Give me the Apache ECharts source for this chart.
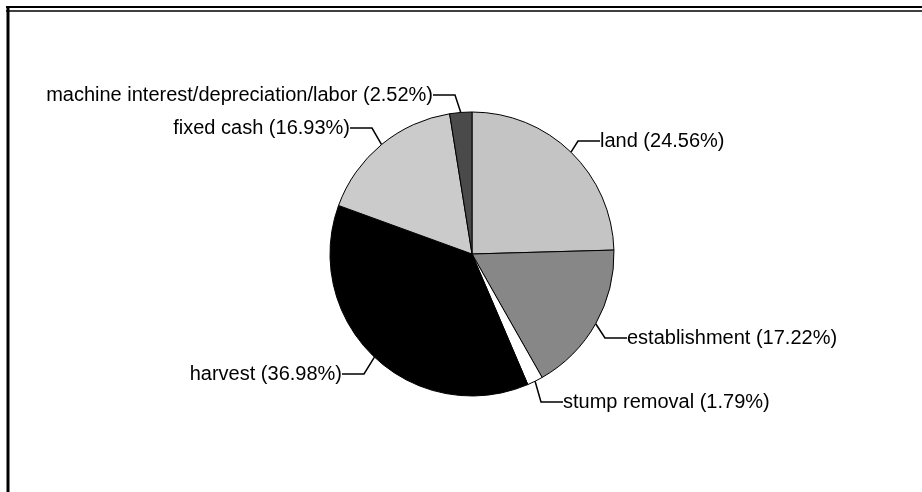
<!DOCTYPE html>
<html>
<head>
<meta charset="utf-8">
<script src="https://cdn.jsdelivr.net/npm/echarts@6/dist/echarts.min.js"></script>
<style>
  html, body { margin: 0; padding: 0; background: #fff; }
  #chart { width: 922px; height: 492px; }
</style>
</head>
<body>
<div id="chart"></div>
<script>
  // cost shares, clockwise from 12 o'clock
  const categories = [
    "land",
    "establishment",
    "stump removal",
    "harvest",
    "fixed cash",
    "machine interest/depreciation/labor"
  ]
  const shares = [24.56, 17.22, 1.79, 36.98, 16.93, 2.52]
  const sliceColors = ["#c4c4c4", "#878787", "#ffffff", "#000000", "#cbcbcb", "#4a4a4a"]

  // where each label box sits (anchor x, centre y, which side)
  const labelSpots = {
    "land": [596, 141, "left"],
    "establishment": [623, 338, "left"],
    "stump removal": [559, 402, "left"],
    "harvest": [346, 374, "right"],
    "fixed cash": [354, 128, "right"],
    "machine interest/depreciation/labor": [437, 95, "right"]
  }

  const chart = echarts.init(document.getElementById("chart"))

  chart.setOption({
    backgroundColor: "#ffffff",
    animation: false,
    graphic: [
      // scanned frame: double top rule + left rule
      { type: "line", shape: { x1: 6, y1: 7, x2: 922, y2: 7 }, style: { stroke: "#000", lineWidth: 2 } },
      { type: "line", shape: { x1: 6, y1: 11, x2: 922, y2: 11 }, style: { stroke: "#000", lineWidth: 1.5 } },
      { type: "line", shape: { x1: 8, y1: 6, x2: 8, y2: 492 }, style: { stroke: "#000", lineWidth: 3 } }
    ],
    series: [
      {
        type: "pie",
        center: [472, 254],
        radius: 142,
        startAngle: 90,
        clockwise: true,
        avoidLabelOverlap: false,
        data: categories.map((name, i) => ({
          name,
          value: shares[i],
          itemStyle: { color: sliceColors[i] }
        })),
        itemStyle: { borderColor: "#000", borderWidth: 1 },
        label: {
          show: true,
          formatter: p => `${p.name} (${p.value.toFixed(2)}%)`,
          fontFamily: "Liberation Sans, Arial, sans-serif",
          fontSize: 20,
          color: "#000",
          padding: [0, 4]
        },
        labelLine: {
          show: true,
          length: 12,
          length2: 22,
          lineStyle: { color: "#000", width: 1.5 }
        },
        labelLayout: p => {
          const s = labelSpots[categories[p.dataIndex]]
          return { x: s[0], y: s[1], align: s[2], verticalAlign: "middle" }
        }
      }
    ]
  })
</script>
</body>
</html>
